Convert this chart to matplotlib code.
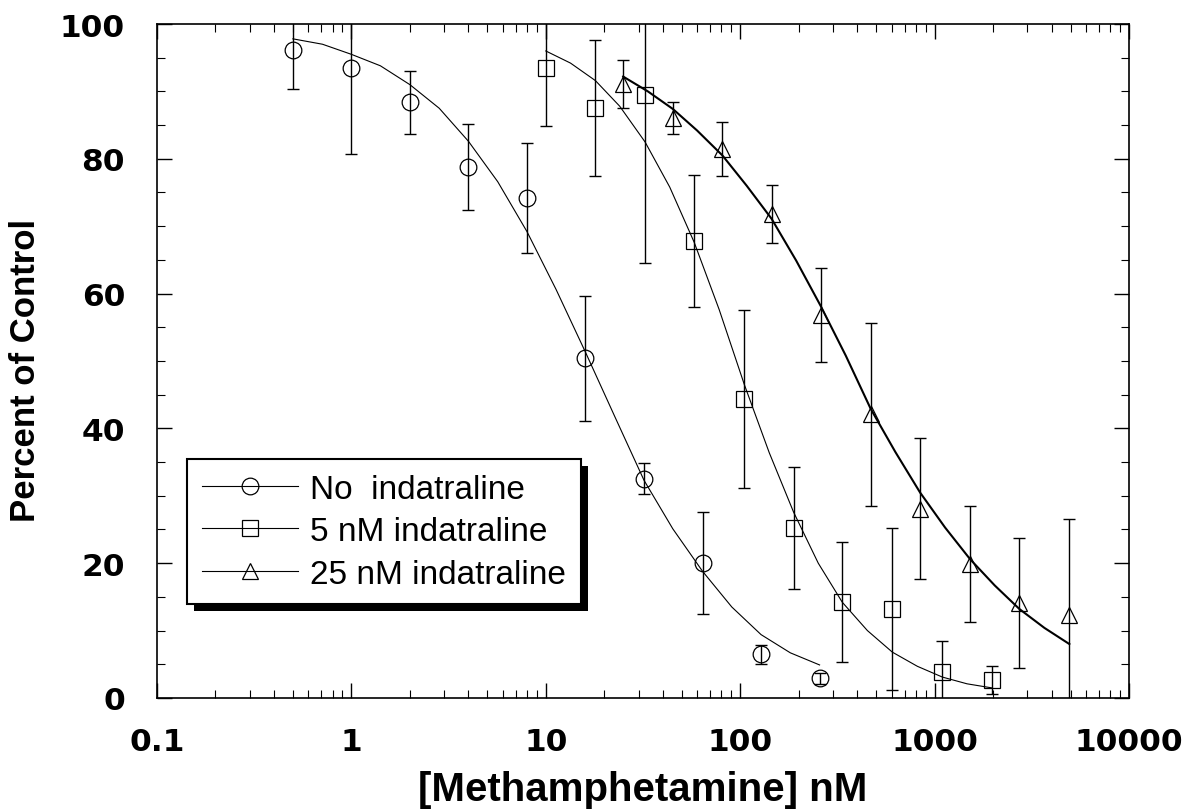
import matplotlib
matplotlib.use('Agg')
import matplotlib.pyplot as plt
import matplotlib.patheffects as pe
from matplotlib.lines import Line2D
from matplotlib.ticker import FixedLocator, MultipleLocator, LogLocator, NullFormatter

# --- data ---
# No indatraline (circles)
x_none = [0.5, 1, 2, 4, 8, 16, 32, 64, 128, 256]
y_none = [96.2, 93.4, 88.4, 78.8, 74.2, 50.4, 32.5, 20.0, 6.5, 2.9]
e_none = [5.8, 12.7, 4.7, 6.4, 8.2, 9.3, 2.3, 7.6, 1.4, 0.8]

# 5 nM indatraline (squares)
x_5 = [10, 18, 32.4, 58, 105, 188, 335, 606, 1096, 1967]
y_5 = [93.4, 87.5, 89.5, 67.8, 44.4, 25.2, 14.3, 13.2, 3.8, 2.7]
e_5 = [8.5, 10.1, 24.9, 9.8, 13.2, 9.1, 8.9, 12.0, 4.7, 2.1]

# 25 nM indatraline (triangles)
x_25 = [25, 45, 81, 145, 259, 469, 841, 1521, 2729, 4932]
y_25 = [91.1, 86.1, 81.5, 71.8, 56.8, 42.1, 28.1, 19.9, 14.1, 12.3]
e_25 = [3.6, 2.4, 4.0, 4.3, 7.0, 13.6, 10.5, 8.6, 9.6, 14.2]

# fitted curves
cx_none = [0.5, 0.71, 1, 1.41, 2, 2.83, 4, 5.66, 8, 11.3, 16, 22.6, 32, 45, 64, 90.5, 128, 181, 256]
cy_none = [97.8, 97.0, 95.5, 93.8, 91.0, 87.5, 82.6, 76.6, 69.2, 60.6, 51.3, 41.8, 32.3, 25.1, 18.8, 13.5, 9.4, 6.7, 4.9]

cx_5 = [10, 13.4, 18, 24, 32.4, 43.4, 58, 78, 105, 141, 188, 252, 335, 451, 606, 815, 1096, 1468, 1967]
cy_5 = [96.0, 94.2, 91.6, 87.8, 82.5, 75.8, 67.6, 57.6, 46.5, 36.4, 27.6, 20.0, 14.2, 10.0, 6.8, 4.7, 3.1, 2.1, 1.5]

cx_25 = [25, 33.5, 45, 60, 81, 108, 145, 194, 259, 349, 469, 628, 841, 1131, 1521, 2037, 2729, 3669, 4932]
cy_25 = [92.2, 90.0, 87.4, 84.2, 80.5, 76.0, 71.1, 64.9, 58.2, 50.8, 42.9, 36.5, 30.5, 25.3, 20.6, 16.7, 13.2, 10.4, 8.0]

labels = ['No  indatraline', '5 nM indatraline', '25 nM indatraline']
xtick_vals = [0.1, 1, 10, 100, 1000, 10000]
xtick_labels = ['0.1', '1', '10', '100', '1000', '10000']

fig = plt.figure(figsize=(11.82, 8.12), dpi=100)
ax = fig.add_axes([0.1328, 0.1392, 0.8224, 0.8300])

series = [
    (x_none, y_none, e_none, cx_none, cy_none, 'o', 12, 0.8),
    (x_5, y_5, e_5, cx_5, cy_5, 's', 11.5, 0.8),
    (x_25, y_25, e_25, cx_25, cy_25, '^', 12, 1.5),
]
for xs, ys, es, cx, cy, mk, ms, lw in series:
    ax.plot(cx, cy, color='black', lw=lw)
    ax.errorbar(xs, ys, yerr=es, fmt='none', ecolor='black', elinewidth=1.0,
                capsize=4, capthick=1.0)
    ax.plot(xs, ys, linestyle='none', marker=mk, ms=ms, mfc='none',
            mec='black', mew=0.9)

ax.set_xscale('log')
ax.set_xlim(0.1, 10000)
ax.set_ylim(0, 100)

ax.xaxis.set_major_locator(FixedLocator(xtick_vals))
ax.set_xticklabels(xtick_labels)
ax.xaxis.set_minor_locator(LogLocator(base=10, subs=range(2, 10), numticks=50))
ax.xaxis.set_minor_formatter(NullFormatter())
ax.yaxis.set_major_locator(MultipleLocator(20))
ax.yaxis.set_minor_locator(MultipleLocator(5))

for lab in ax.get_xticklabels() + ax.get_yticklabels():
    lab.set_fontfamily('DejaVu Sans')
    lab.set_fontweight('bold')
    lab.set_fontsize(22.5)

ax.tick_params(which='both', direction='in', top=True, right=True, color='black')
ax.tick_params(axis='x', which='major', length=11, width=1.0, pad=21)
ax.tick_params(axis='x', which='minor', length=6, width=0.8)
ax.tick_params(axis='y', which='major', length=11, width=1.0, pad=23)
ax.tick_params(axis='y', which='minor', length=6, width=0.8)
for sp in ax.spines.values():
    sp.set_linewidth(1.2)

ax.set_xlabel('[Methamphetamine] nM', fontfamily='Liberation Sans',
              fontweight='bold', fontsize=29, va='center')
ax.xaxis.set_label_coords(0.5, -0.135)
ax.set_ylabel('Percent of Control', fontfamily='Liberation Sans',
              fontweight='bold', fontsize=25, va='center')
ax.yaxis.set_label_coords(-0.1348, 0.487)

handles = [Line2D([], [], color='black', lw=0.8, marker=m, ms=s, mfc='none',
                  mec='black', mew=0.9)
           for m, s in [('o', 12), ('s', 11.5), ('^', 12)]]
leg = ax.legend(handles, labels, loc='upper left', bbox_to_anchor=(0.031, 0.3546),
                borderaxespad=0, fancybox=False, framealpha=1, edgecolor='black',
                prop={'family': 'Liberation Sans', 'size': 24},
                handlelength=2.9, handletextpad=0.36, labelspacing=0.345,
                borderpad=0.44, numpoints=1)
frame = leg.get_frame()
frame.set_linewidth(1.5)
frame.set_path_effects([pe.SimplePatchShadow(offset=(5, -5), shadow_rgbFace='black',
                                              alpha=1.0), pe.Normal()])

fig.savefig('out.png', dpi=100)
